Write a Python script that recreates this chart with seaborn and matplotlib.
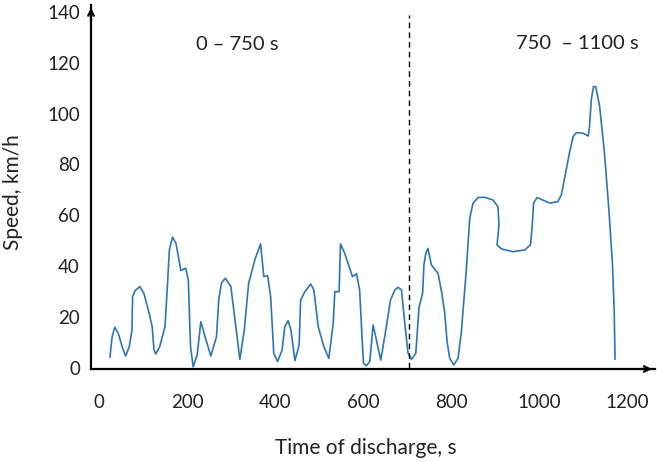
#!/usr/bin/env python3
import numpy as np
import pandas as pd
import matplotlib
matplotlib.use("Agg")
import matplotlib.pyplot as plt
import seaborn as sns

# speed profile (time s, speed km/h)
time_s = [25, 30, 36, 44, 54, 60.5, 69, 75, 76.5, 82, 93, 102, 114, 121, 125, 129, 138,
          150, 155, 160, 167, 175, 186, 197, 203, 208, 214, 223, 231.5, 241,
          254, 267, 272, 278, 287, 299.6, 307, 320, 330, 340, 354, 367, 374.5, 383,
          390, 397, 405.6, 416, 422, 429.6, 436, 445, 454.6, 458, 467.6, 481,
          488, 498, 510.7, 522, 532, 535.6, 545.4, 548.5, 558, 575.7, 585, 592,
          598.5, 601, 607.5, 615, 622.6, 632.5, 640, 651.4, 662, 672, 679.4, 687,
          694.5, 702, 710, 719.5, 727, 735, 738, 742, 747, 755, 770, 778, 785,
          790.6, 796.6, 805.7, 815.5, 823, 834.5, 842, 849.5, 861, 876, 895, 906,
          908.5, 904, 914, 940, 967, 980, 984, 987, 995, 1008, 1024, 1042, 1050,
          1061, 1069, 1077, 1084, 1099, 1111, 1114, 1118, 1123, 1128, 1137, 1148,
          1158, 1166, 1170, 1172]
speed_kmh = [4.2, 12.3, 16, 13.6, 7.7, 4.7, 8.4, 14.9, 28, 30.4, 32, 29.4, 21.5, 16.2,
             7.1, 5.5, 8.4, 16.2, 30.7, 46.4, 51.4, 49, 38.3, 39.2, 34.6, 8.4, 0.5, 5.1,
             18.2, 12.3, 4.7, 12.3, 26.7, 33.3, 35.3, 32, 21.5, 3.4, 14.9, 33.3, 42.5,
             48.8, 35.9, 36.3, 28, 5.8, 2.5, 7.1, 16.2, 18.6, 14.9, 2.9, 9, 26.7, 30,
             33, 30.7, 16.2, 8.4, 3.8, 17.6, 30, 30, 48.8, 45.1, 35.9, 37, 30.7, 8.4,
             1.8, 0.9, 2.5, 16.9, 9, 3.1, 14.9, 26.7, 30.7, 31.7, 30.7, 17.6, 5.8, 3.4,
             5.8, 24, 29.4, 40.5, 45, 47, 40.5, 37.2, 30, 22, 10.3, 3.8, 1.2, 3.8,
             14.3, 39.2, 58.9, 64.8, 67, 67.1, 66, 63.4, 56.2, 48.4, 46.8, 45.7, 46.4,
             48.4, 56.2, 64.8, 67, 66, 64.8, 65.4, 68, 77.9, 85, 91, 92.5, 92.3, 91.2,
             94.9, 105.4, 110.6, 110.6, 102.8, 84.4, 62.1, 41.2, 22.8, 3.4]

x_ticks = [0, 200, 400, 600, 800, 1000, 1200]
y_ticks = [0, 20, 40, 60, 80, 100, 120, 140]
split_time = 705
phase_labels = ["0 – 750 s", "750  – 1100 s"]

df = pd.DataFrame({"time": time_s, "speed": speed_kmh})

sns.set_style("white")
plt.rcParams["font.family"] = ["Lato", "DejaVu Sans"]

fig = plt.figure(figsize=(6.57, 4.62), dpi=100, facecolor="white")
ax = fig.add_axes([0.1385, 0.2013, 0.858, 0.788])

sns.lineplot(data=df, x="time", y="speed", sort=False, color="#2e75b6",
             linewidth=1.2, ax=ax)

ax.set_xlim(-18, 1262)
ax.set_ylim(-0.4, 142.7)
ax.set_xticks(x_ticks)
ax.set_yticks(y_ticks)
ax.tick_params(axis="both", length=0, labelsize=13.5, colors="#222222")
ax.tick_params(axis="x", pad=18)
ax.tick_params(axis="y", pad=8)

for s in ["top", "right"]:
    ax.spines[s].set_visible(False)
for s in ["left", "bottom"]:
    ax.spines[s].set_color("black")
    ax.spines[s].set_linewidth(1.6)

# arrow heads on axes
ax.annotate("", xy=(0, 1.0), xytext=(0, 0.95), xycoords="axes fraction",
            arrowprops=dict(arrowstyle="->", color="black", lw=1.6))
ax.annotate("", xy=(1.0, 0), xytext=(0.97, 0), xycoords="axes fraction",
            arrowprops=dict(arrowstyle="->", color="black", lw=1.6))

ax.vlines(split_time, 0, 138.8, colors="black", linestyles=(0, (4, 3)), linewidth=1.0)

ax.text(315, 127, phase_labels[0], ha="center", va="center", fontsize=14.5, color="#222222")
ax.text(1087, 127.4, phase_labels[1], ha="center", va="center", fontsize=14.5, color="#222222")

ax.set_xlabel("Time of discharge, s", fontsize=15, color="#222222")
ax.set_ylabel("Speed, km/h", fontsize=15, color="#222222")
ax.xaxis.set_label_coords(0.488, -0.19)
ax.yaxis.set_label_coords(-0.121, 0.485)

fig.savefig("out.png", dpi=100, facecolor="white")
